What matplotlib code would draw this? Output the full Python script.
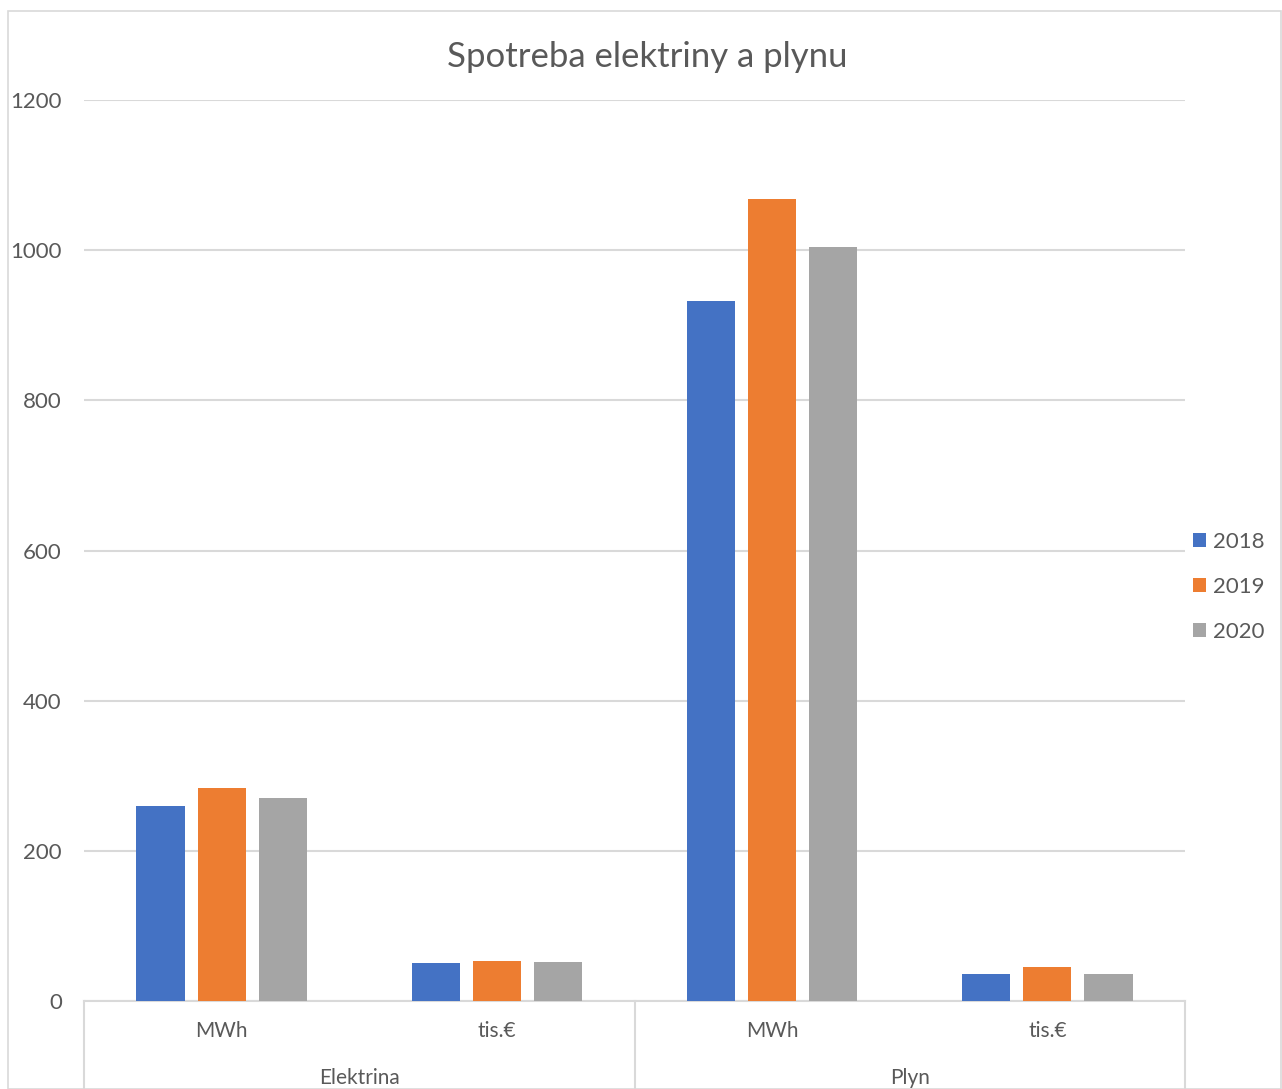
import matplotlib.pyplot as plt
from matplotlib.patches import Rectangle
import numpy as np

# consumption data per commodity and unit
groups = ['Elektrina', 'Plyn']
units = ['MWh', 'tis.€', 'MWh', 'tis.€']
years = ['2018', '2019', '2020']
values_2018 = [260, 51, 932, 36]
values_2019 = [284, 53, 1068, 45]
values_2020 = [270, 52, 1004, 36]
colors = ['#4472C4', '#ED7D31', '#A5A5A5']

plt.rcParams['font.family'] = ['Lato', 'DejaVu Sans']
text_color = '#595959'
grid_color = '#D9D9D9'

W, H = 1282, 1089
fig = plt.figure(figsize=(W / 100, H / 100), dpi=100)

# outer chart frame
fig.add_artist(Rectangle((8 / W, 0), (W - 9) / W, 1 - 11 / H, transform=fig.transFigure,
                         fill=False, edgecolor=grid_color, linewidth=1.2))

left, right, top, bottom = 84, 1185, 100, 1001
ax = fig.add_axes([left / W, 1 - bottom / H, (right - left) / W, (bottom - top) / H])

x = np.arange(len(units))
offset = 0.222
width = 0.175
series = [values_2018, values_2019, values_2020]
for i, (vals, year) in enumerate(zip(series, years)):
    ax.bar(x + (i - 1) * offset, vals, width, color=colors[i], label=year, zorder=3)

ax.set_xlim(-0.5, len(units) - 0.5)
ax.set_ylim(0, 1200)
ax.set_yticks(range(0, 1201, 200))
ax.yaxis.grid(True, color=grid_color, linewidth=1.5, zorder=0)
ax.tick_params(axis='y', length=0, pad=16, labelsize=16, labelcolor=text_color)
ax.tick_params(axis='x', length=0, labelbottom=False)
for side in ['top', 'right', 'left']:
    ax.spines[side].set_visible(False)
ax.spines['bottom'].set_color(grid_color)
ax.spines['bottom'].set_linewidth(1.5)

# two-level category axis
ax_h = bottom - top
drop = (H - bottom) / ax_h
for xs in [-0.5, 1.5, 3.5]:
    ax.plot([xs, xs], [0, -drop], transform=ax.get_xaxis_transform(), color=grid_color,
            linewidth=1.5, clip_on=False)
for xi, u in zip(x, units):
    ax.text(xi, -30 / ax_h, u, transform=ax.get_xaxis_transform(), ha='center', va='center',
            fontsize=15, color=text_color)
for gi, g in enumerate(groups):
    ax.text(2 * gi + 0.5, -77 / ax_h, g, transform=ax.get_xaxis_transform(), ha='center',
            va='center', fontsize=15, color=text_color)

fig.text(647 / W, 1 - 57 / H, 'Spotreba elektriny a plynu', ha='center', va='center',
         fontsize=25, color=text_color)

leg = ax.legend(loc='center left', bbox_to_anchor=(1.0, (bottom - 587) / ax_h), frameon=False,
                fontsize=16, labelcolor=text_color, handlelength=0.6, handleheight=0.6,
                handletextpad=0.3, labelspacing=1.13, borderaxespad=0, borderpad=0.35)

fig.savefig('out.png', dpi=100)
